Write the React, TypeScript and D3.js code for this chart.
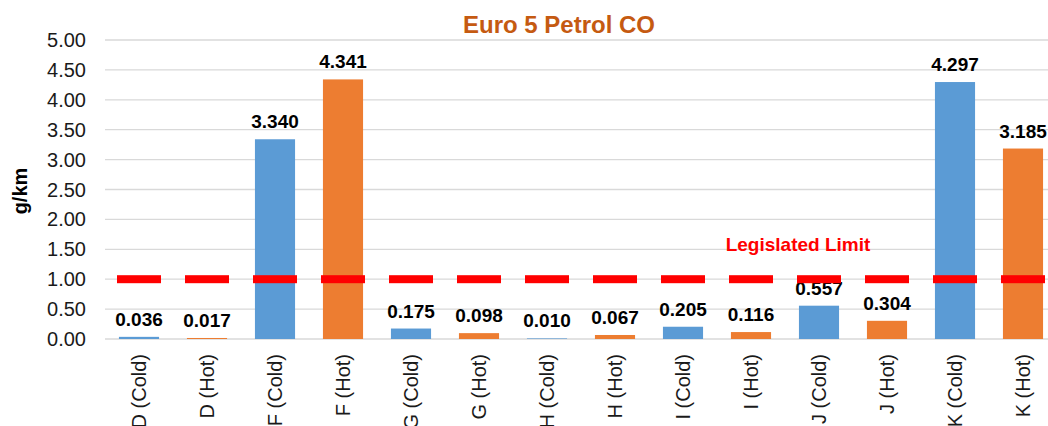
import React from "react";
import * as d3 from "d3";

const categories = [
  "D (Cold)", "D (Hot)", "F (Cold)", "F (Hot)", "G (Cold)", "G (Hot)", "H (Cold)",
  "H (Hot)", "I (Cold)", "I (Hot)", "J (Cold)", "J (Hot)", "K (Cold)", "K (Hot)",
];
const values = [0.036, 0.017, 3.34, 4.341, 0.175, 0.098, 0.01, 0.067, 0.205, 0.116, 0.557, 0.304, 4.297, 3.185];
const limitValues = [1, 1, 1, 1, 1, 1, 1, 1, 1, 1, 1, 1, 1, 1];
const yTicks = [0, 0.5, 1, 1.5, 2, 2.5, 3, 3.5, 4, 4.5, 5];
const title = "Euro 5 Petrol CO";
const yLabel = "g/km";
const limitLabel = "Legislated Limit";

const W = 1048;
const H = 426;
const BLUE = "#5B9BD5";
const ORANGE = "#ED7D31";

export default function App() {
  const x = d3
    .scaleBand<string>()
    .domain(categories)
    .range([105, 105 + 14 * 68])
    .paddingInner(0.41)
    .paddingOuter(0.205);
  const y = d3.scaleLinear().domain([0, 5]).range([339, 40]);
  const font = "Arial, 'Liberation Sans', sans-serif";
  const bw = x.bandwidth();

  return (
    <svg
      width={W}
      height={H}
      style={{ position: "absolute", left: 0, top: 0, background: "#fff" }}
      fontFamily={font}
    >
      <rect x={0} y={0} width={W} height={H} fill="#fff" />
      {yTicks.map((t) => (
        <g key={t}>
          <line x1={105} x2={W} y1={y(t)} y2={y(t)} stroke="#d9d9d9" strokeWidth={1.3} />
          <text x={86} y={y(t) + 7} textAnchor="end" fontSize={20} fill="#1a1a1a">
            {t.toFixed(2)}
          </text>
        </g>
      ))}
      {categories.map((c, i) => {
        const v = values[i];
        const cx = (x(c) as number) + bw / 2;
        return (
          <g key={c}>
            <rect
              x={x(c)}
              y={y(v)}
              width={bw}
              height={y(0) - y(v)}
              fill={c.includes("Cold") ? BLUE : ORANGE}
            />
            <text
              x={cx}
              y={y(v) - 11}
              textAnchor="middle"
              fontSize={19}
              fontWeight="bold"
              fill="#000"
            >
              {v.toFixed(3)}
            </text>
            <text
              transform={`translate(${cx + 7},354) rotate(-90)`}
              textAnchor="end"
              fontSize={20}
              fill="#1a1a1a"
            >
              {c}
            </text>
          </g>
        );
      })}
      {categories.map((c, i) => {
        const cx = (x(c) as number) + bw / 2;
        return (
          <rect key={"l" + c} x={cx - 22} y={y(limitValues[i]) - 4} width={44} height={8} fill="#FF0000" />
        );
      })}
      <text x={798} y={251} textAnchor="middle" fontSize={19} fontWeight="bold" fill="#FF0000">
        {limitLabel}
      </text>
      <text x={559} y={33} textAnchor="middle" fontSize={24} fontWeight="bold" fill="#C55A11">
        {title}
      </text>
      <text
        transform={`translate(27,191) rotate(-90)`}
        textAnchor="middle"
        fontSize={20}
        fontWeight="bold"
        fill="#000"
      >
        {yLabel}
      </text>
    </svg>
  );
}
